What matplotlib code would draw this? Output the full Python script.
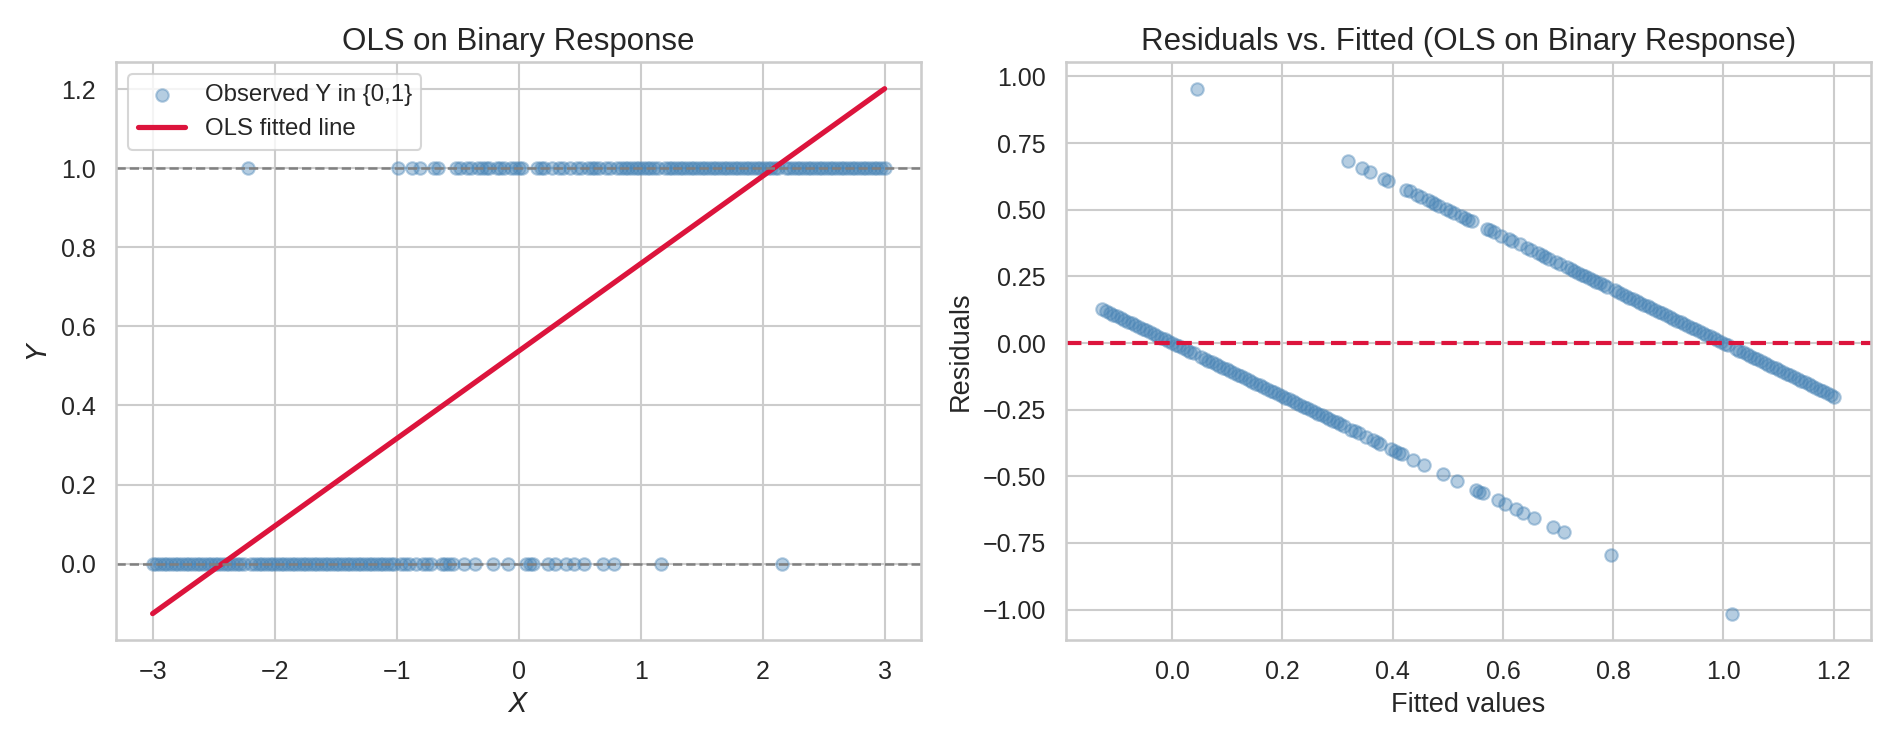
import matplotlib
matplotlib.use("Agg")
import matplotlib.pyplot as plt
import seaborn as sns
import numpy as np

sns.set_theme(style="whitegrid")
plt.rcParams['font.family'] = ['Liberation Sans', 'DejaVu Sans']

# observed X where Y = 0
x_zero = [
    -3.00, -2.97, -2.94, -2.91, -2.88, -2.85, -2.82, -2.79, -2.76, -2.73,
    -2.70, -2.67, -2.64, -2.61, -2.58, -2.55, -2.52, -2.49, -2.46, -2.43,
    -2.40, -2.37, -2.34, -2.31, -2.28, -2.25, -2.19, -2.16, -2.13,
    -2.10, -2.07, -2.04, -2.01, -1.98, -1.95, -1.92, -1.89, -1.86, -1.83,
    -1.80, -1.77, -1.74, -1.71, -1.68, -1.65, -1.62, -1.59, -1.56, -1.53,
    -1.50, -1.47, -1.44, -1.41, -1.38, -1.35, -1.32, -1.29, -1.26, -1.23,
    -1.20, -1.17, -1.14, -1.11, -1.08, -1.05, -1.02,
    -0.96, -0.93, -0.90, -0.84, -0.78, -0.75, -0.72, -0.63, -0.60, -0.57, -0.54,
    -0.45, -0.36, -0.21, -0.09, 0.06, 0.09, 0.12, 0.24, 0.30, 0.39, 0.45, 0.54,
    0.69, 0.78, 1.17, 2.16,
]

# observed X where Y = 1
x_one = [
    -2.22, -0.99, -0.87, -0.81, -0.69, -0.66, -0.51,
    -0.48, -0.42, -0.39, -0.33, -0.30, -0.27, -0.24, -0.18, -0.15, -0.12,
    -0.06, -0.03, 0.00, 0.03, 0.15, 0.18, 0.21, 0.27, 0.33, 0.36,
    0.42, 0.48, 0.51, 0.57, 0.60, 0.63, 0.66, 0.72, 0.75, 0.81, 0.84,
    0.87, 0.90, 0.93, 0.96, 0.99, 1.02, 1.05, 1.08, 1.11, 1.14,
    1.20, 1.23, 1.26, 1.29, 1.32, 1.35, 1.38, 1.41, 1.44, 1.47,
    1.50, 1.53, 1.56, 1.59, 1.62, 1.65, 1.68, 1.71, 1.74, 1.77,
    1.80, 1.83, 1.86, 1.89, 1.92, 1.95, 1.98, 2.01, 2.04, 2.07,
    2.10, 2.13, 2.19, 2.22, 2.25, 2.28, 2.31, 2.34, 2.37, 2.40,
    2.43, 2.46, 2.49, 2.52, 2.55, 2.58, 2.61, 2.64, 2.67, 2.70,
    2.73, 2.76, 2.79, 2.82, 2.85, 2.88, 2.91, 2.94, 2.97, 3.00,
]

X = np.array(x_zero + x_one)
Y = np.array([0] * len(x_zero) + [1] * len(x_one))
order = np.argsort(X)
X = X[order]
Y = Y[order]

# OLS fit
slope, intercept = np.polyfit(X, Y, 1)
fitted = intercept + slope * X
resid = Y - fitted

fig, (ax1, ax2) = plt.subplots(1, 2, figsize=(12.653, 4.967), dpi=150)

ax1.scatter(X, Y, s=36, alpha=0.4, color="steelblue", label="Observed Y in {0,1}")
ax1.plot(X, fitted, color="crimson", lw=2.5, label="OLS fitted line")
ax1.axhline(0, color="gray", ls="--", lw=1.2)
ax1.axhline(1, color="gray", ls="--", lw=1.2)
ax1.set_title("OLS on Binary Response", fontsize=15)
ax1.set_xlabel("$X$", fontsize=13)
ax1.set_ylabel("$Y$", fontsize=13)
ax1.tick_params(labelsize=12)
ax1.legend(loc="upper left", fontsize=11.5)

ax2.scatter(fitted, resid, s=36, alpha=0.4, color="steelblue")
ax2.axhline(0, color="crimson", ls="--", lw=2)
ax2.set_title("Residuals vs. Fitted (OLS on Binary Response)", fontsize=15)
ax2.set_xlabel("Fitted values", fontsize=13)
ax2.set_ylabel("Residuals", fontsize=13)
ax2.tick_params(labelsize=12)

plt.tight_layout()
plt.savefig("out.png", dpi=150)
